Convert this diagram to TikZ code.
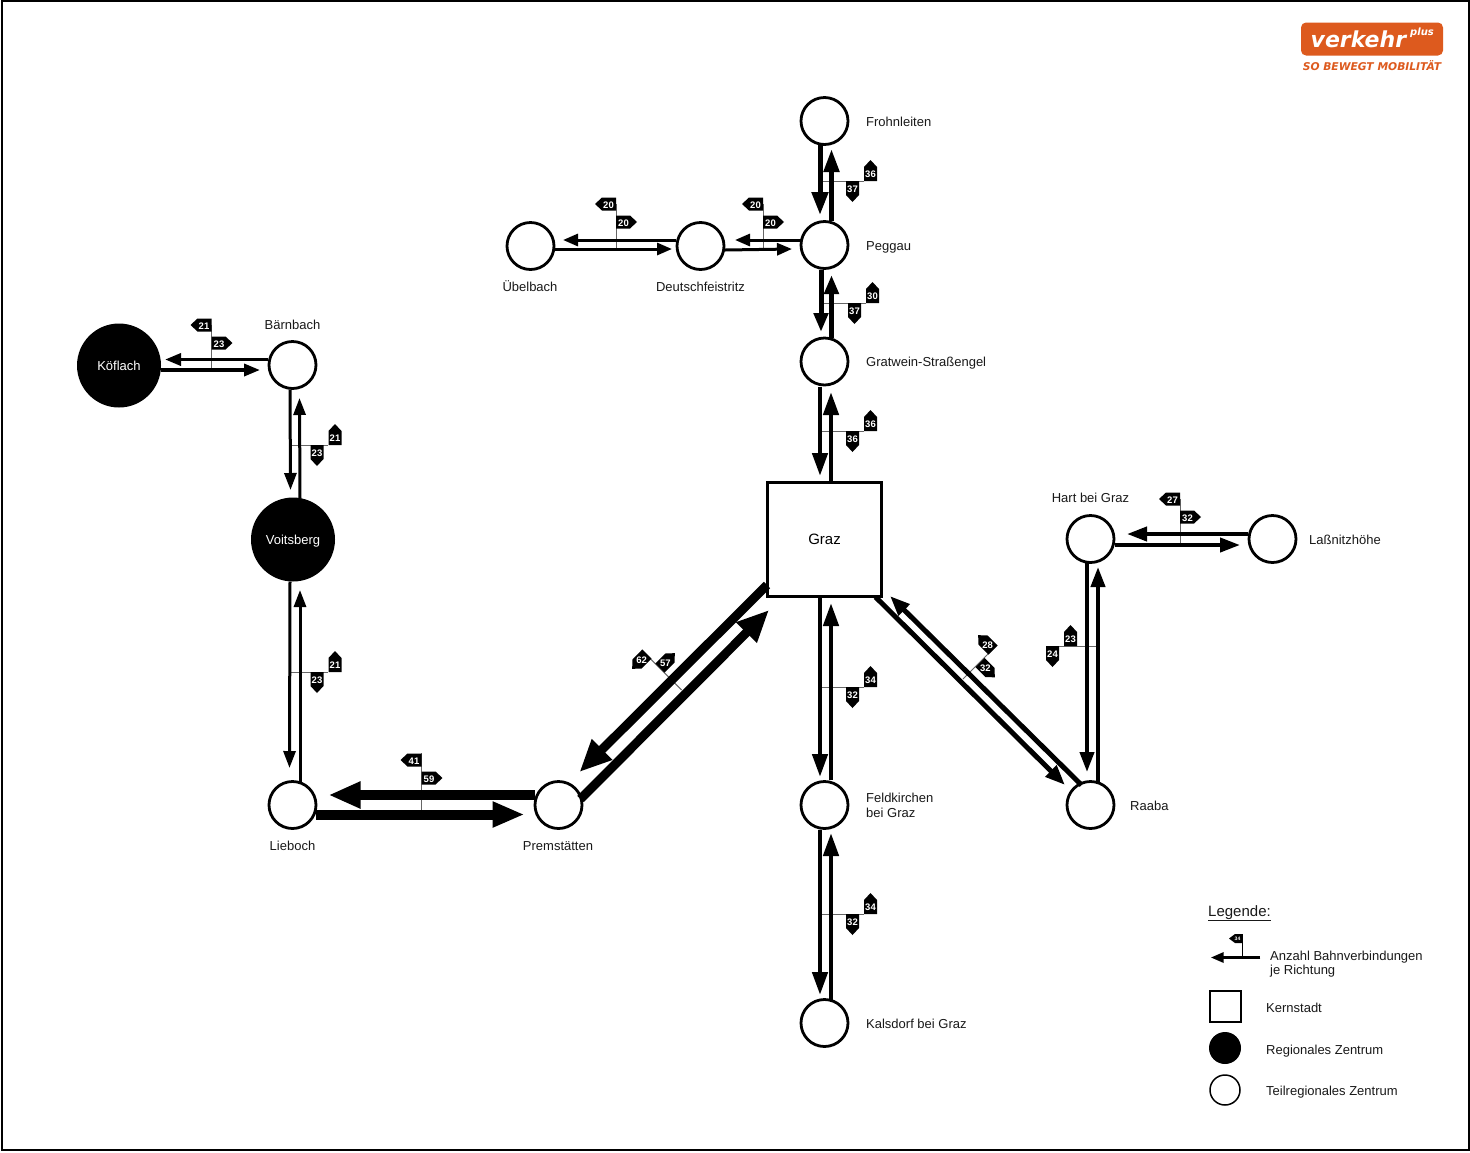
\documentclass[tikz,border=0pt]{standalone}
\usepackage{fontspec}
\setmainfont{Liberation Sans}
\newfontfamily\logofont{DejaVu Sans}
\usetikzlibrary{arrows.meta}
\definecolor{vporange}{HTML}{DD5A1E}
\newcommand{\fpx}[1]{\fontsize{#1pt}{#1pt}\selectfont}
\newcommand{\conn}[5]{\draw[arr=#1] ([shift={(#3)}]#2.center) -- ([shift={(#5)}]#4.center);}
\newcommand{\flagf}[4]{\begin{scope}[shift={(#2)},rotate=#3]
  \fill[black] (0,-6.5) -- (14,-6.5) -- (21,0) -- (14,6.5) -- (0,6.5) -- cycle;
  \node[flagnum] (#1) at (7.5,0) {#4};\end{scope}}
\newcommand{\tickline}[3]{\coordinate (#1a) at (#2);\coordinate (#1b) at (#3);\draw[tickstyle] (#1a) -- (#1b);}
\tikzset{
  arr/.style args={#1/#2/#3}{draw=black,line width=#1pt,-{Triangle[length=#2pt,width=#3pt]}},
  tickstyle/.style={draw=black!60,line width=1pt},
  flagnum/.style={text=white,font=\bfseries\fpx{9.5},inner sep=0pt,text height=7pt,text depth=0pt,yshift=-.5pt},
  open/.style={circle,draw=black,fill=white,line width=2.8pt,minimum size=47pt,inner sep=0pt},
  region/.style={circle,fill=black,text=white,minimum size=84pt,inner sep=0pt,font=\fpx{13},text height=13pt,text depth=2.3pt},
  lab/.style={font=\fpx{13},inner sep=0pt,text=black!90,text height=13pt,text depth=2.3pt},
  labl/.style={lab,anchor=west},
}
\begin{document}
\begin{tikzpicture}[x=1pt,y=-1pt]
\useasboundingbox (0,0) rectangle (1470,1152);
\fill[white] (0,0) rectangle (1470,1152);
\node[draw=black,line width=2pt,minimum width=1467pt,minimum height=1149pt,inner sep=0pt] (frame) at (735,575.5) {};
% towns
\node[open] (fro) at (824.5,121) {};
\node[open] (peg) at (824.5,245) {};
\node[open] (gra) at (824.5,361.5) {};
\node[open] (fel) at (824.5,805) {};
\node[open] (kal) at (824.5,1023) {};
\node[open] (raa) at (1090.5,805) {};
\node[open] (har) at (1090.5,539) {};
\node[open] (las) at (1272.5,539) {};
\node[open] (ueb) at (530.5,246) {};
\node[open] (deu) at (700.5,246) {};
\node[open] (lie) at (292.5,805) {};
\node[open] (pre) at (558.5,805) {};
\node[open] (bae) at (292.5,365) {};
\node[region] (voi) at (293,539.5) {Voitsberg};
\node[region] (koe) at (119,365.5) {Köflach};
\node[draw=black,line width=3pt,fill=white,minimum size=113.5pt,inner sep=0pt,font=\fpx{15}] (graz) at (824.5,539.5) {Graz};
% labels
\node[labl] (l1) at (866,121) {Frohnleiten};
\node[labl] (l2) at (866,245) {Peggau};
\node[labl] (l3) at (866,361.5) {Gratwein-Straßengel};
\node[labl] (l4) at (866,797.5) {Feldkirchen};
\node[labl] (l4b) at (866,812) {bei Graz};
\node[labl] (l5) at (866,1023) {Kalsdorf bei Graz};
\node[labl] (l6) at (1130,805) {Raaba};
\node[lab] (l7) at (1090.5,497.5) {Hart bei Graz};
\node[labl] (l8) at (1309,539) {Laßnitzhöhe};
\node[lab] (l9) at (558,845) {Premstätten};
\node[lab] (l10) at (292.5,845) {Lieboch};
\node[lab] (l11) at (292.5,324) {Bärnbach};
\node[lab] (l12) at (530,286.5) {Übelbach};
\node[lab] (l13) at (700.5,286.5) {Deutschfeistritz};
% ticks
\tickline{t1}{822,181}{864,181}
\tickline{t2}{823,303}{866,303}
\tickline{t3}{822,431}{864,431}
\tickline{t4}{822,687}{864,687}
\tickline{t5}{822,914}{864,914}
\tickline{t6}{291,445}{328,445}
\tickline{t7}{291,672}{328,672}
\tickline{t8}{1059,646}{1098,646}
\tickline{t9}{211.5,325}{211.5,370}
\tickline{t10}{616,204}{616,248}
\tickline{t11}{763,204}{763,248}
\tickline{t12}{421.5,753}{421.5,810}
\tickline{t13}{1180,499}{1180,545}
\tickline{t14}{963,679}{997,645}
\tickline{t15}{641.7,650}{681.7,690}
% connectors
\conn{5/23/16}{fro}{-4.5,24}{peg}{-4.5,-30}
\conn{5/23/15}{peg}{7,-24}{fro}{7,28}
\conn{5/19/14}{peg}{-3.5,24.5}{gra}{-3.5,-29.5}
\conn{5/19/14}{gra}{7,-24}{peg}{7,30}
\conn{4.5/23/15}{gra}{-4.5,25}{graz}{-4.5,-63.5}
\conn{4.5/23/15}{graz}{6.5,-57.5}{gra}{6.5,30.5}
\conn{4.5/23/15}{graz}{-4.5,58}{fel}{-4.5,-28}
\conn{4.5/23/15}{fel}{6.5,-25}{graz}{6.5,63.5}
\conn{4.5/23/15}{fel}{-4.5,25}{kal}{-4.5,-28}
\conn{4.5/23/15}{kal}{6.5,-23}{fel}{6.5,28}
\conn{3/15/12}{peg}{-24,-5}{deu}{34.5,-6}
\conn{3/15/12}{deu}{24.5,4}{peg}{-32.5,4}
\conn{3/15/12}{deu}{-24.5,-6}{ueb}{32.5,-6}
\conn{3/15/12}{ueb}{24.5,3}{deu}{-28.5,3}
\conn{3.5/16/12}{bae}{-24.5,-5.5}{koe}{46,-6}
\conn{3.5/16/12}{koe}{42,4.5}{bae}{-32.5,5}
\conn{3/17/12}{bae}{-2.5,24.5}{voi}{-2.5,-49.5}
\conn{3/17/12}{voi}{7,-41}{bae}{7,33}
\conn{3/17/12}{voi}{-3,42}{lie}{-3,-37}
\conn{3/17/12}{lie}{7.5,-23.5}{voi}{7,50.5}
\conn{9.5/32/25}{pre}{-24,-10}{lie}{36,-10}
\conn{10/32/24}{lie}{23.5,9.5}{pre}{-34,9.5}
\conn{9/32/27}{pre}{22,-6}{graz}{-55.5,70.5}
\conn{9/32/27}{graz}{-57.5,45.5}{pre}{21,-33}
\conn{5/20/15}{graz}{51,57.5}{raa}{-25.5,-20}
\conn{5/20/15}{raa}{-9,-20}{graz}{65.5,56.5}
\conn{4/20/14}{har}{-3.5,24}{raa}{-3.5,-33}
\conn{4/20/14}{raa}{7.5,-23.5}{har}{7.5,28}
\conn{4/20/14}{har}{24.5,6}{las}{-32.5,6}
\conn{4/20/14}{las}{-24.5,-5}{har}{36.5,-5}
% flags
\flagf{f1}{870.5,181}{90}{36}
\flagf{f2}{852.5,181}{270}{37}
\flagf{f3}{872.5,303}{90}{30}
\flagf{f4}{854.5,303}{270}{37}
\flagf{f5}{870.5,431}{90}{36}
\flagf{f6}{852.5,431}{270}{36}
\flagf{f7}{870.5,687}{90}{34}
\flagf{f8}{852.5,687}{270}{32}
\flagf{f9}{870.5,914}{90}{34}
\flagf{f10}{852.5,914}{270}{32}
\flagf{f11}{335,445}{90}{21}
\flagf{f12}{317,445}{270}{23}
\flagf{f13}{335,672}{90}{21}
\flagf{f14}{317,672}{270}{23}
\flagf{f15}{1070.5,646}{90}{23}
\flagf{f16}{1052.5,646}{270}{24}
\flagf{f17}{211.5,325}{180}{21}
\flagf{f18}{211.5,343}{0}{23}
\flagf{f19}{616,204}{180}{20}
\flagf{f20}{616,222}{0}{20}
\flagf{f21}{763,204}{180}{20}
\flagf{f22}{763,222}{0}{20}
\flagf{f23}{421.5,760}{180}{41}
\flagf{f24}{421.5,778}{0}{59}
\flagf{f25}{1180,499}{180}{27}
\flagf{f26}{1180,517}{0}{32}
\flagf{f27}{993,650}{135}{28}
\flagf{f28}{980,662.5}{315}{32}
\flagf{f29}{647,654}{225}{62}
\flagf{f30}{660,668}{45}{57}
% legend
\node[labl,font=\fpx{15},text height=13pt,text depth=3pt] (leg) at (1208,911) {\underline{Legende:}};
\node[inner sep=0pt] (la1) at (1261,957.5) {};
\node[inner sep=0pt] (la2) at (1210,957.5) {};
\draw[arr=3/13/10] (la1) -- (la2);
\coordinate (lt1) at (1242.7,957.5);\coordinate (lt2) at (1242.7,934);
\draw[black,line width=1.5pt] (lt1) -- (lt2);
\fill[black] (1242,934) -- (1235,934) -- (1229,938.5) -- (1235,943) -- (1242,943) -- cycle;
\node[text=white,font=\bfseries\fpx{5},inner sep=0pt] (lf) at (1237.5,938.5) {34};
\node[labl] (lt3) at (1270,955.5) {Anzahl Bahnverbindungen};
\node[labl] (lt4) at (1270,969.5) {je Richtung};
\node[draw=black,line width=2pt,minimum size=31pt,inner sep=0pt] (ls) at (1225,1006.5) {};
\node[labl] (lt5) at (1266,1007.5) {Kernstadt};
\node[circle,fill=black,minimum size=32pt,inner sep=0pt] (lb) at (1225,1048) {};
\node[labl] (lt6) at (1266,1049) {Regionales Zentrum};
\node[circle,draw=black,line width=1.5pt,minimum size=30pt,inner sep=0pt] (lo) at (1225,1090) {};
\node[labl] (lt7) at (1266,1090.5) {Teilregionales Zentrum};
% logo
\node[fill=vporange,rounded corners=5pt,minimum width=142pt,minimum height=33pt,inner sep=0pt] (logo) at (1372,39) {};
\node[text=white,font=\logofont\bfseries\itshape\fpx{22},inner sep=0pt,anchor=base west] (lg1) at (1310.5,47) {verkehr};
\node[text=white,font=\logofont\bfseries\itshape\fpx{10},inner sep=0pt] (lg2) at (1422,33) {plus};
\node[text=vporange,font=\logofont\bfseries\itshape\fpx{10.7},inner sep=0pt] (lg3) at (1372,66) {SO BEWEGT MOBILITÄT};
\end{tikzpicture}
\end{document}
